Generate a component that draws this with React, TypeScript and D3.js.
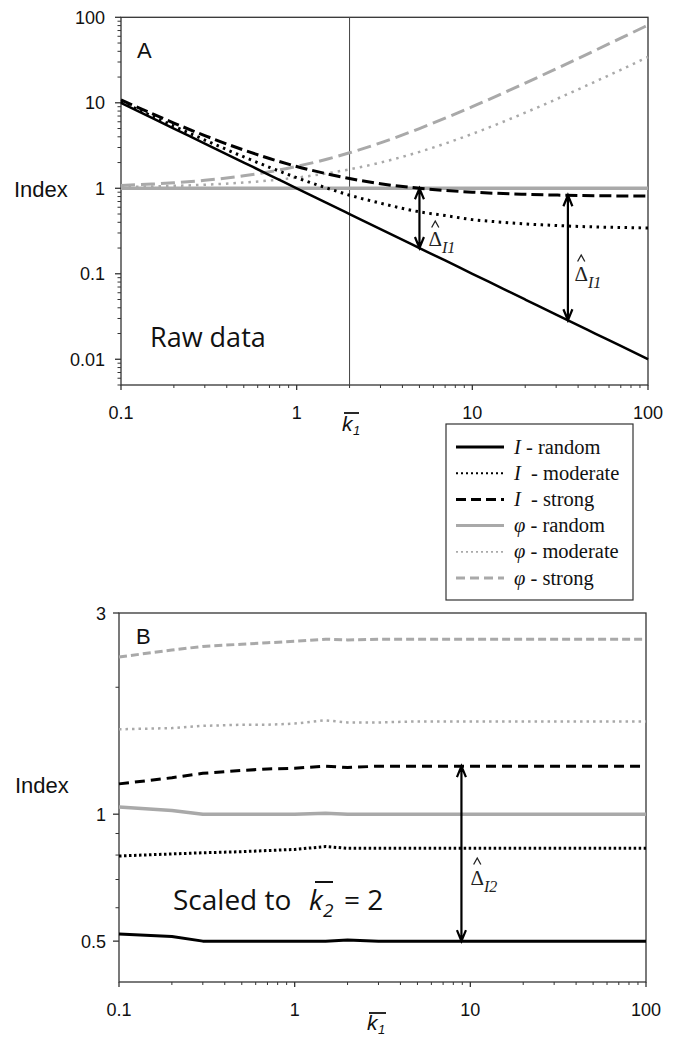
import React from 'react';
import * as d3 from 'd3';

// ---------- data ----------
const kA = [0.1, 0.15, 0.2, 0.3, 0.5, 0.7, 1, 1.5, 2, 3, 5, 7, 10, 15, 20, 30, 50, 70, 100];
const iRandomA = [10, 6.667, 5, 3.333, 2, 1.429, 1, 0.667, 0.5, 0.333, 0.2, 0.143, 0.1, 0.0667, 0.05, 0.0333, 0.02, 0.0143, 0.01];
const iModerateA = [10.33, 7.0, 5.33, 3.67, 2.33, 1.76, 1.33, 1.0, 0.83, 0.67, 0.53, 0.48, 0.43, 0.4, 0.383, 0.367, 0.353, 0.348, 0.343];
const iStrongA = [10.8, 7.47, 5.8, 4.13, 2.8, 2.23, 1.8, 1.47, 1.3, 1.13, 1.0, 0.943, 0.9, 0.867, 0.85, 0.833, 0.82, 0.814, 0.81];
const phiRandomA = [1, 1, 1, 1, 1, 1, 1, 1, 1, 1, 1, 1, 1, 1, 1, 1, 1, 1, 1];
const phiModerateA = [1.033, 1.05, 1.067, 1.1, 1.167, 1.233, 1.333, 1.5, 1.667, 2.0, 2.667, 3.333, 4.333, 6.0, 7.667, 11.0, 17.67, 24.33, 34.33];
const phiStrongA = [1.08, 1.12, 1.16, 1.24, 1.4, 1.56, 1.8, 2.2, 2.6, 3.4, 5.0, 6.6, 9.0, 13.0, 17.0, 25.0, 41.0, 57.0, 81.0];

const kB = [0.1, 0.2, 0.3, 0.5, 0.7, 1, 1.5, 2, 3, 5, 7, 10, 20, 50, 100];
const phiStrongB = [2.36, 2.45, 2.5, 2.53, 2.55, 2.57, 2.6, 2.59, 2.6, 2.6, 2.6, 2.6, 2.6, 2.6, 2.6];
const phiModerateB = [1.59, 1.6, 1.62, 1.63, 1.63, 1.64, 1.67, 1.65, 1.65, 1.66, 1.66, 1.66, 1.66, 1.66, 1.66];
const iStrongB = [1.18, 1.22, 1.25, 1.27, 1.28, 1.285, 1.3, 1.29, 1.3, 1.3, 1.3, 1.3, 1.3, 1.3, 1.3];
const phiRandomB = [1.04, 1.02, 1.0, 1.0, 1.0, 1.0, 1.005, 1.0, 1.0, 1.0, 1.0, 1.0, 1.0, 1.0, 1.0];
const iModerateB = [0.796, 0.805, 0.81, 0.815, 0.82, 0.825, 0.838, 0.83, 0.83, 0.83, 0.83, 0.83, 0.83, 0.83, 0.83];
const iRandomB = [0.52, 0.513, 0.5, 0.5, 0.5, 0.5, 0.5, 0.503, 0.5, 0.5, 0.5, 0.5, 0.5, 0.5, 0.5];

const xTicks = [0.1, 1, 10, 100];
const xTickLabels = ['0.1', '1', '10', '100'];
const yTicksA = [0.01, 0.1, 1, 10, 100];
const yTickLabelsA = ['0.01', '0.1', '1', '10', '100'];
const yTicksB = [0.5, 1, 3];
const yTickLabelsB = ['0.5', '1', '3'];
const yMinorB = [0.6, 0.7, 0.8, 0.9, 2];

const legendLabels = ['random', 'moderate', 'strong', 'random', 'moderate', 'strong'];
const legendSymbols = ['I', 'I', 'I', 'φ', 'φ', 'φ'];

// arrows: [k, upper value, lower value]
const arrowsA = [[5, 1, 0.2], [35, 0.829, 0.0286]];
const arrowsB = [[8.9, 1.3, 0.5]];

// ---------- layout ----------
const W = 679;
const H = 1042;
const A = { left: 121, right: 648, top: 17.3, bottom: 385 };
const B = { left: 119, right: 646, top: 613, bottom: 982 };

const xA = d3.scaleLog().domain([0.1, 100]).range([A.left, A.right]);
const yA = d3.scaleLog().domain([0.005, 100]).range([A.bottom, A.top]);
const xB = d3.scaleLog().domain([0.1, 100]).range([B.left, B.right]);
const yB = d3.scaleLog().domain([0.4, 3]).range([B.bottom, B.top]);

const BLACK = '#000';
const GREY = '#a9a9a9';
const AXIS = '#333';
const SANS = '"Liberation Sans", Arial, sans-serif';
const SERIF = '"Liberation Serif", "Times New Roman", serif';
const KOR = '"Open Sans", "Noto Sans", sans-serif';

type Style = { color: string; width: number; dash?: string };

const stylesA: Style[] = [
  { color: GREY, width: 3.5 },
  { color: GREY, width: 2.5, dash: '2.5,5' },
  { color: GREY, width: 3, dash: '14,6' },
  { color: BLACK, width: 2.5 },
  { color: BLACK, width: 3, dash: '2.5,4.5' },
  { color: BLACK, width: 3, dash: '12,5' },
];
const stylesB: Style[] = [
  { color: GREY, width: 3.5 },
  { color: GREY, width: 2.5, dash: '2.5,4' },
  { color: GREY, width: 3, dash: '8,4' },
  { color: BLACK, width: 3 },
  { color: BLACK, width: 3, dash: '2.5,2.5' },
  { color: BLACK, width: 3, dash: '10,6' },
];
const legendStyles: Style[] = [
  { color: BLACK, width: 3 },
  { color: BLACK, width: 2, dash: '2,3' },
  { color: BLACK, width: 3, dash: '10,5' },
  { color: GREY, width: 3 },
  { color: GREY, width: 1.8, dash: '2,3' },
  { color: GREY, width: 3, dash: '9,5' },
];

function minorLog(lo: number, hi: number): number[] {
  const out: number[] = [];
  for (let e = -3; e <= 2; e++) {
    for (let m = 2; m <= 9; m++) {
      const v = m * Math.pow(10, e);
      if (v >= lo * 0.999 && v <= hi * 1.001) out.push(v);
    }
  }
  return out;
}

function Series({ k, v, x, y, s, curve }: any) {
  const gen = d3
    .line<number>()
    .x((_d, i) => x(k[i]))
    .y((d) => y(d))
    .curve(curve);
  return (
    <path
      d={gen(v) || ''}
      fill="none"
      stroke={s.color}
      strokeWidth={s.width}
      strokeDasharray={s.dash}
      strokeLinejoin="round"
    />
  );
}

function Arrow({ x, y1, y2 }: { x: number; y1: number; y2: number }) {
  const hw = 4.5;
  const hl = 11;
  const d = `M${x},${y1}L${x},${y2}M${x - hw},${y1 + hl}L${x},${y1}L${x + hw},${y1 + hl}M${x - hw},${y2 - hl}L${x},${y2}L${x + hw},${y2 - hl}`;
  return <path d={d} fill="none" stroke={BLACK} strokeWidth={2.2} strokeLinejoin="miter" />;
}

function DeltaLabel({ x, y, sub, hatY }: { x: number; y: number; sub: string; hatY: number }) {
  const cx = x + 6.8;
  return (
    <g fontFamily={SERIF} fill="#222">
      <path d={`M${cx - 3.6},${hatY + 6.5}L${cx},${hatY}L${cx + 3.6},${hatY + 6.5}`} fill="none" stroke="#222" strokeWidth={1.3} />
      <text x={x} y={y} fontSize={21}>Δ</text>
      <text x={x + 13.5} y={y + 7} fontSize={16} fontStyle="italic">{sub}</text>
    </g>
  );
}

function Frame({ box, x, y, yTicks, yLabels, yMinor, labelRight }: any) {
  const xMinor = minorLog(0.1, 100).filter((v) => !xTicks.includes(v));
  return (
    <g>
      <rect x={box.left} y={box.top} width={box.right - box.left} height={box.bottom - box.top} fill="none" stroke={AXIS} strokeWidth={1.3} />
      {xTicks.map((t) => (
        <line key={'xM' + t} x1={x(t)} x2={x(t)} y1={box.bottom} y2={box.bottom + 5} stroke={AXIS} strokeWidth={1.3} />
      ))}
      {xMinor.map((t) => (
        <line key={'xm' + t} x1={x(t)} x2={x(t)} y1={box.bottom} y2={box.bottom + 3} stroke={AXIS} strokeWidth={1} />
      ))}
      {yTicks.map((t: number) => (
        <line key={'yM' + t} x1={box.left - 6} x2={box.left} y1={y(t)} y2={y(t)} stroke={AXIS} strokeWidth={1.3} />
      ))}
      {yMinor.map((t: number) => (
        <line key={'ym' + t} x1={box.left - 3.5} x2={box.left} y1={y(t)} y2={y(t)} stroke={AXIS} strokeWidth={1} />
      ))}
      <g fontFamily={SANS} fontSize={18} fill="#111">
        {xTicks.map((t, i) => (
          <text key={'xl' + t} x={x(t)} y={box.bottom + 34} textAnchor="middle">{xTickLabels[i]}</text>
        ))}
        {yTicks.map((t: number, i: number) => (
          <text key={'yl' + t} x={labelRight} y={y(t) + 6.5} textAnchor="end">{yLabels[i]}</text>
        ))}
      </g>
    </g>
  );
}

export default function App() {
  const seriesA = [phiRandomA, phiModerateA, phiStrongA, iRandomA, iModerateA, iStrongA];
  const seriesB = [phiRandomB, phiModerateB, phiStrongB, iRandomB, iModerateB, iStrongB];
  const yMinorA = minorLog(0.005, 100).filter((v) => !yTicksA.includes(v));
  return (
    <svg width={W} height={H} style={{ position: 'absolute', left: 0, top: 0, background: '#fff' }}>
      <rect x={0} y={0} width={W} height={H} fill="#fff" />

      {/* ---------------- Panel A ---------------- */}
      <Frame box={A} x={xA} y={yA} yTicks={yTicksA} yLabels={yTickLabelsA} yMinor={yMinorA} labelRight={105} />
      <line x1={xA(2)} x2={xA(2)} y1={A.top} y2={A.bottom} stroke="#444" strokeWidth={1} />
      {seriesA.map((v, i) => (
        <Series key={'a' + i} k={kA} v={v} x={xA} y={yA} s={stylesA[i]} curve={d3.curveMonotoneX} />
      ))}
      {arrowsA.map(([k, hi, lo], i) => (
        <Arrow key={'arA' + i} x={xA(k)} y1={yA(hi)} y2={yA(lo)} />
      ))}
      <DeltaLabel x={xA(arrowsA[0][0]) + 9} y={246} hatY={221} sub="I1" />
      <DeltaLabel x={xA(arrowsA[1][0]) + 6.5} y={281} hatY={255} sub="I1" />
      <text x={137} y={58} fontFamily={SANS} fontSize={22} fill="#111">A</text>
      <text x={14} y={197} fontFamily={SANS} fontSize={22} fill="#111">Index</text>
      <text x={150} y={347} fontFamily={KOR} fontSize={27} fill="#111">Raw data</text>
      {/* x label k1 */}
      <g fontFamily={SANS} fill="#111" fontStyle="italic">
        <text x={342} y={431} fontSize={21}>k</text>
        <text x={353} y={435} fontSize={13}>1</text>
      </g>
      <line x1={344} x2={359} y1={413} y2={413} stroke="#111" strokeWidth={1.8} />

      {/* ---------------- Legend ---------------- */}
      <rect x={446} y={424} width={187} height={176} fill="#fff" stroke={AXIS} strokeWidth={1.2} />
      {legendLabels.map((lab, i) => {
        const cy = 447 + i * 26.2;
        const s = legendStyles[i];
        return (
          <g key={'lg' + i}>
            <line x1={456} x2={504} y1={cy} y2={cy} stroke={s.color} strokeWidth={s.width} strokeDasharray={s.dash} />
            <text x={514} y={cy + 6.5} fontFamily={SERIF} fontSize={20.5} fill="#111" style={{ whiteSpace: 'pre' }}>
              <tspan fontStyle="italic">{legendSymbols[i]}</tspan>
              <tspan>{(i === 1 || i === 2 ? '  - ' : ' - ') + lab}</tspan>
            </text>
          </g>
        );
      })}

      {/* ---------------- Panel B ---------------- */}
      <Frame box={B} x={xB} y={yB} yTicks={yTicksB} yLabels={yTickLabelsB} yMinor={yMinorB} labelRight={106} />
      {seriesB.map((v, i) => (
        <Series key={'b' + i} k={kB} v={v} x={xB} y={yB} s={stylesB[i]} curve={d3.curveLinear} />
      ))}
      {arrowsB.map(([k, hi, lo], i) => (
        <Arrow key={'arB' + i} x={xB(k)} y1={yB(hi)} y2={yB(lo)} />
      ))}
      <DeltaLabel x={xB(arrowsB[0][0]) + 9} y={885} hatY={858} sub="I2" />
      <text x={136} y={644} fontFamily={SANS} fontSize={22} fill="#111">B</text>
      <text x={15} y={793} fontFamily={SANS} fontSize={22} fill="#111">Index</text>
      <g fontFamily={KOR} fill="#111">
        <text x={173} y={910} fontSize={28}>Scaled to</text>
        <text x={309} y={910} fontSize={28} fontStyle="italic">k</text>
        <text x={323} y={917} fontSize={19} fontStyle="italic">2</text>
        <text x={344} y={910} fontSize={28}>= 2</text>
      </g>
      <line x1={315} x2={333} y1={882} y2={882} stroke="#111" strokeWidth={2} />
      <g fontFamily={SANS} fill="#111" fontStyle="italic">
        <text x={367} y={1030} fontSize={21}>k</text>
        <text x={378} y={1034} fontSize={13}>1</text>
      </g>
      <line x1={369} x2={386} y1={1013} y2={1013} stroke="#111" strokeWidth={1.8} />
    </svg>
  );
}
